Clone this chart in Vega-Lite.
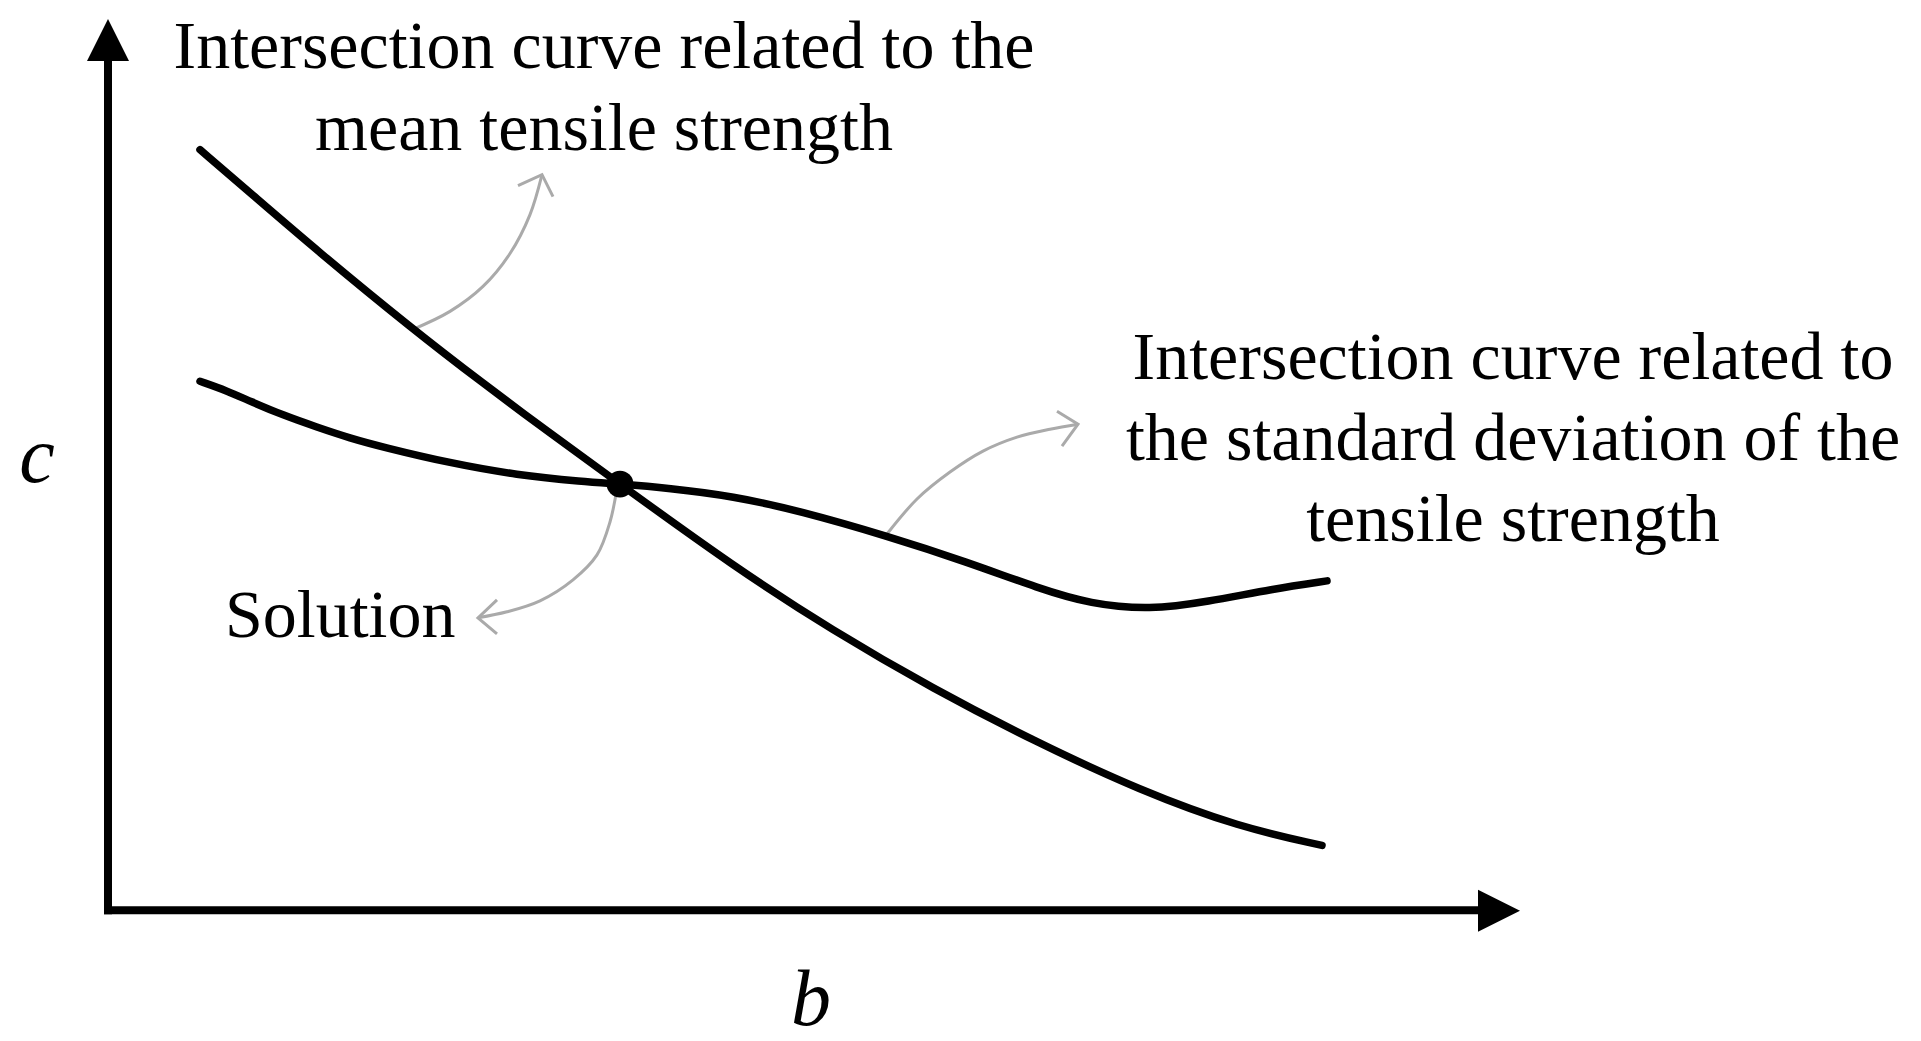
{
  "$schema": "https://vega.github.io/schema/vega-lite/v6.json",
  "width": 1921,
  "height": 1041,
  "padding": 0,
  "autosize": {"type": "fit", "contains": "padding"},
  "background": "white",
  "config": {"view": {"stroke": null}},
  "encoding": {
    "x": {"field": "b", "type": "quantitative", "scale": {"domain": [-10.8, 181.3], "nice": false, "zero": false}, "axis": null},
    "y": {"field": "c", "type": "quantitative", "scale": {"domain": [-12.9, 91.2], "nice": false, "zero": false}, "axis": null}
  },
  "layer": [
    {
      "data": {"values": [
        {"arrow": "mean", "i": 0, "b": 30.5, "c": 58.2},
        {"arrow": "mean", "i": 1, "b": 34.2, "c": 60.0},
        {"arrow": "mean", "i": 2, "b": 37.5, "c": 62.5},
        {"arrow": "mean", "i": 3, "b": 40.2, "c": 65.8},
        {"arrow": "mean", "i": 4, "b": 42.2, "c": 69.7},
        {"arrow": "mean", "i": 5, "b": 43.4, "c": 73.7},
        {"arrow": "sd", "i": 0, "b": 77.9, "c": 37.7},
        {"arrow": "sd", "i": 1, "b": 80.9, "c": 41.2},
        {"arrow": "sd", "i": 2, "b": 84.2, "c": 43.9},
        {"arrow": "sd", "i": 3, "b": 87.5, "c": 46.0},
        {"arrow": "sd", "i": 4, "b": 90.9, "c": 47.4},
        {"arrow": "sd", "i": 5, "b": 94.2, "c": 48.2},
        {"arrow": "sd", "i": 6, "b": 97.0, "c": 48.7},
        {"arrow": "sol", "i": 0, "b": 50.9, "c": 42.3},
        {"arrow": "sol", "i": 1, "b": 50.2, "c": 38.9},
        {"arrow": "sol", "i": 2, "b": 48.9, "c": 35.6},
        {"arrow": "sol", "i": 3, "b": 46.5, "c": 33.1},
        {"arrow": "sol", "i": 4, "b": 43.2, "c": 31.0},
        {"arrow": "sol", "i": 5, "b": 39.9, "c": 29.9},
        {"arrow": "sol", "i": 6, "b": 37.0, "c": 29.3}
      ]},
      "mark": {"type": "line", "interpolate": "catmull-rom", "stroke": "#aaaaaa", "strokeWidth": 3},
      "encoding": {"detail": {"field": "arrow"}, "order": {"field": "i", "type": "quantitative"}}
    },
    {
      "data": {"values": [
        {"head": "mean", "i": 0, "b": 41.0, "c": 72.6},
        {"head": "mean", "i": 1, "b": 43.4, "c": 73.7},
        {"head": "mean", "i": 2, "b": 44.5, "c": 71.5},
        {"head": "sd", "i": 0, "b": 94.9, "c": 50.0},
        {"head": "sd", "i": 1, "b": 97.0, "c": 48.7},
        {"head": "sd", "i": 2, "b": 95.4, "c": 46.5},
        {"head": "sol", "i": 0, "b": 38.9, "c": 31.1},
        {"head": "sol", "i": 1, "b": 37.0, "c": 29.3},
        {"head": "sol", "i": 2, "b": 38.9, "c": 27.7}
      ]},
      "mark": {"type": "line", "interpolate": "linear", "stroke": "#aaaaaa", "strokeWidth": 3, "strokeJoin": "miter"},
      "encoding": {"detail": {"field": "head"}, "order": {"field": "i", "type": "quantitative"}}
    },
    {
      "data": {"values": [
        {"curve": "mean", "b": 9.2, "c": 76.2},
        {"curve": "mean", "b": 14.2, "c": 71.9},
        {"curve": "mean", "b": 20.9, "c": 66.1},
        {"curve": "mean", "b": 30.5, "c": 58.2},
        {"curve": "mean", "b": 37.5, "c": 52.8},
        {"curve": "mean", "b": 44.2, "c": 47.8},
        {"curve": "mean", "b": 51.2, "c": 42.7},
        {"curve": "mean", "b": 62.5, "c": 34.5},
        {"curve": "mean", "b": 72.5, "c": 28.0},
        {"curve": "mean", "b": 82.5, "c": 22.2},
        {"curve": "mean", "b": 92.7, "c": 16.9},
        {"curve": "mean", "b": 103.2, "c": 12.0},
        {"curve": "mean", "b": 113.2, "c": 8.3},
        {"curve": "mean", "b": 121.4, "c": 6.5},
        {"curve": "sd", "b": 9.2, "c": 53.0},
        {"curve": "sd", "b": 11.9, "c": 52.05},
        {"curve": "sd", "b": 14.2, "c": 51.0},
        {"curve": "sd", "b": 17.5, "c": 49.6},
        {"curve": "sd", "b": 20.9, "c": 48.4},
        {"curve": "sd", "b": 24.2, "c": 47.3},
        {"curve": "sd", "b": 27.5, "c": 46.4},
        {"curve": "sd", "b": 34.2, "c": 44.8},
        {"curve": "sd", "b": 40.9, "c": 43.6},
        {"curve": "sd", "b": 47.5, "c": 42.95},
        {"curve": "sd", "b": 51.2, "c": 42.7},
        {"curve": "sd", "b": 56.0, "c": 42.3},
        {"curve": "sd", "b": 62.5, "c": 41.5},
        {"curve": "sd", "b": 69.2, "c": 40.0},
        {"curve": "sd", "b": 77.9, "c": 37.5},
        {"curve": "sd", "b": 85.9, "c": 34.9},
        {"curve": "sd", "b": 93.2, "c": 32.2},
        {"curve": "sd", "b": 98.2, "c": 30.7},
        {"curve": "sd", "b": 104.2, "c": 30.1},
        {"curve": "sd", "b": 109.9, "c": 30.9},
        {"curve": "sd", "b": 116.5, "c": 32.2},
        {"curve": "sd", "b": 121.9, "c": 33.0}
      ]},
      "mark": {"type": "line", "interpolate": "basis", "stroke": "black", "strokeWidth": 7.5, "strokeCap": "round"},
      "encoding": {"detail": {"field": "curve"}}
    },
    {
      "data": {"values": [{"b": 51.2, "c": 42.7}]},
      "mark": {"type": "circle", "size": 720, "color": "black", "opacity": 1}
    },
    {
      "data": {"values": [
        {"b": 0, "c": -0.4, "b2": 0, "c2": 85.5},
        {"b": -0.4, "c": 0, "b2": 137.6, "c2": 0}
      ]},
      "mark": {"type": "rule", "stroke": "black", "strokeWidth": 8, "strokeCap": "butt"},
      "encoding": {"x2": {"field": "b2"}, "y2": {"field": "c2"}}
    },
    {
      "data": {"values": [{"b": 0, "c": 87.2}]},
      "mark": {"type": "point", "shape": "M0,-1L1,1L-1,1Z", "size": 1764, "filled": true, "color": "black", "opacity": 1}
    },
    {
      "data": {"values": [{"b": 139.1, "c": -0.05}]},
      "mark": {"type": "point", "shape": "M1,0L-1,1L-1,-1Z", "size": 1764, "filled": true, "color": "black", "opacity": 1}
    },
    {
      "data": {"values": [
        {"label": "Intersection curve related to the", "b": 49.6, "c": 84.4},
        {"label": "mean tensile strength", "b": 49.6, "c": 76.2},
        {"label": "Intersection curve related to", "b": 140.5, "c": 53.2},
        {"label": "the standard deviation of the", "b": 140.5, "c": 45.1},
        {"label": "tensile strength", "b": 140.5, "c": 37.0}
      ]},
      "mark": {"type": "text", "font": "Liberation Serif", "fontSize": 68, "align": "center", "baseline": "alphabetic", "color": "black"},
      "encoding": {"text": {"field": "label"}}
    },
    {
      "data": {"values": [{"label": "Solution", "b": 11.7, "c": 27.4}]},
      "mark": {"type": "text", "font": "Liberation Serif", "fontSize": 68, "align": "left", "baseline": "alphabetic", "color": "black"},
      "encoding": {"text": {"field": "label"}}
    },
    {
      "data": {"values": [
        {"label": "c", "b": -7.1, "c": 42.9},
        {"label": "b", "b": 70.3, "c": -11.5}
      ]},
      "mark": {"type": "text", "font": "Liberation Serif", "fontSize": 80, "fontStyle": "italic", "align": "center", "baseline": "alphabetic", "color": "black"},
      "encoding": {"text": {"field": "label"}}
    }
  ]
}
